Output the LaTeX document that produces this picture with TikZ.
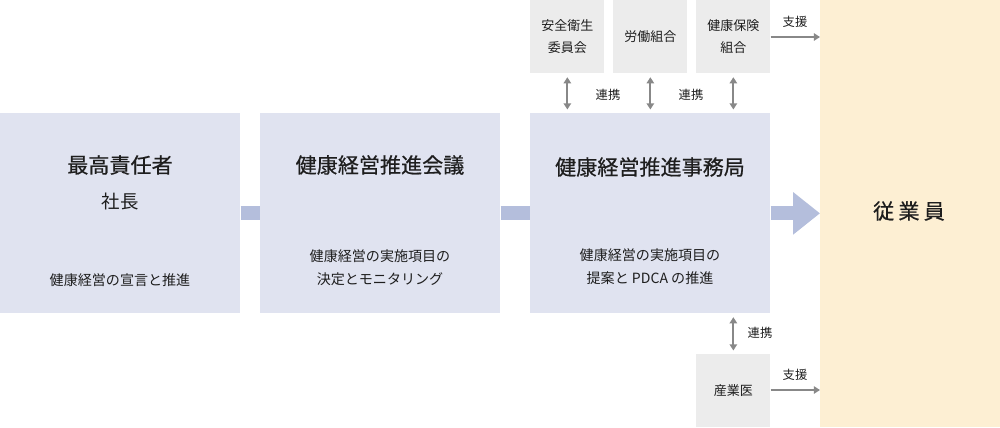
\documentclass[tikz,border=0pt]{standalone}
\usepackage{fontspec}
\setmainfont{Noto Sans CJK JP}
\newfontfamily\headfont[FakeBold=0.5]{Noto Sans CJK JP}
\usetikzlibrary{arrows.meta}
\definecolor{boxblue}{HTML}{E0E3F0}
\definecolor{barblue}{HTML}{B4BEDC}
\definecolor{boxgray}{HTML}{ECECEC}
\definecolor{empbg}{HTML}{FDEFD3}
\definecolor{linegray}{HTML}{888888}
\definecolor{txt}{HTML}{1E1E1E}
\begin{document}
\begin{tikzpicture}[x=0.02cm,y=-0.02cm,
  bluebox/.style={fill=boxblue, draw=none, minimum width=4.8cm, minimum height=4cm, inner sep=0pt, anchor=north west},
  graybox/.style={fill=boxgray, draw=none, minimum width=1.48cm, minimum height=1.46cm, inner sep=0pt, anchor=north west},
  titletext/.style={text=txt, font=\headfont\fontsize{12}{14}\selectfont, inner sep=0pt},
  subtext/.style={text=txt, font=\fontsize{8}{13}\selectfont, inner sep=0pt, align=center},
  smalltext/.style={text=txt, font=\fontsize{7.4}{12.5}\selectfont, inner sep=0pt, align=center},
  labeltext/.style={text=txt, font=\fontsize{7}{8}\selectfont, inner sep=0pt},
  bar/.style={draw=barblue, line width=7.9pt},
  bigarrow/.style={draw=barblue, line width=7.9pt, -{Triangle[length=15.3pt, width=23.2pt]}},
  twoway/.style={draw=linegray, line width=1.1pt, {Triangle[length=3.5pt, width=4.2pt]}-{Triangle[length=3.5pt, width=4.2pt]}, shorten <=2pt, shorten >=2pt},
  oneway/.style={draw=linegray, line width=1.1pt, -{Triangle[length=3.5pt, width=4.2pt]}}
]
\useasboundingbox (0,0) rectangle (1000,427);
% employee area
\node[fill=empbg, draw=none, minimum width=3.6cm, minimum height=8.54cm, inner sep=0pt, anchor=north west] (emp) at (820,0) {};
\node[text=txt, font=\headfont\fontsize{12}{14}\selectfont, inner sep=0pt] (empt) at (909,211) {従\hspace{0.2em}業\hspace{0.2em}員};
% main boxes
\node[bluebox] (b1) at (0,113) {};
\node[bluebox] (b2) at (260,113) {};
\node[bluebox] (b3) at (530,113) {};
\node[titletext] (t1) at (120,165) {最高責任者};
\node[text=txt, font=\fontsize{10.5}{12}\selectfont, inner sep=0pt] (t1b) at (120,202) {社長};
\node[subtext] (s1) at (120,280) {健康経営の宣言と推進};
\node[titletext] (t2) at (380,165) {健康経営推進会議};
\node[subtext] (s2) at (380,268) {健康経営の実施項目の\\決定とモニタリング};
\node[titletext] (t3) at (650,167) {健康経営推進事務局};
\node[subtext] (s3) at (650,267) {健康経営の実施項目の\\提案と PDCA の推進};
% connectors between main boxes
\draw[bar] (b1.east) -- (b2.west);
\draw[bar] (b2.east) -- (b3.west);
\draw[bigarrow] (b3.east) -- (emp.west |- b3.east);
% top gray boxes
\node[graybox] (g1) at (530,0) {};
\node[graybox] (g2) at (613,0) {};
\node[graybox] (g3) at (696,0) {};
\node[smalltext] (g1t) at (g1.center) {安全衛生\\委員会};
\node[smalltext] (g2t) at (g2.center) {労働組合};
\node[smalltext] (g3t) at (g3.center) {健康保険\\組合};
\draw[twoway] (g1.south) -- (g1.south |- b3.north);
\draw[twoway] (g2.south) -- (g2.south |- b3.north);
\draw[twoway] (g3.south) -- (g3.south |- b3.north);
\node[labeltext] (l1) at (608,95) {連携};
\node[labeltext] (l2) at (691,95) {連携};
\draw[oneway] (g3.east |- 0,37) coordinate (a1s) -- (emp.west |- a1s);
\node[labeltext] (l3) at (795,22) {支援};
% bottom gray box
\node[graybox] (g4) at (696,354) {};
\node[smalltext] (g4t) at (g4.center) {産業医};
\draw[twoway] (g4.north) -- (g4.north |- b3.south);
\node[labeltext] (l4) at (760,333) {連携};
\draw[oneway] (g4.east |- 0,390) coordinate (a2s) -- (emp.west |- a2s);
\node[labeltext] (l5) at (795,375) {支援};
\end{tikzpicture}
\end{document}
